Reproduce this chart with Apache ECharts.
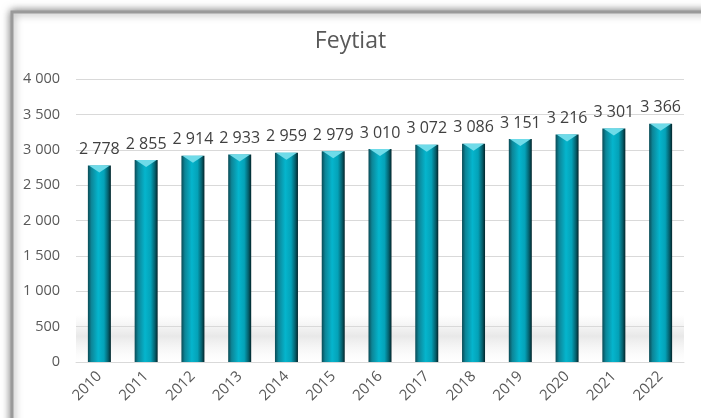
<!DOCTYPE html>
<html lang="fr">
<head>
    <meta charset="UTF-8">
    <title>Feytiat</title>
    <style>
        * { margin: 0; padding: 0; }
        html, body, #chart { width: 701px; height: 418px; overflow: hidden; background: #fff; }
    </style>
</head>
<body>
    <div id="chart"></div>
    <script src="https://cdn.jsdelivr.net/npm/echarts@6/dist/echarts.min.js"></script>
    <script>
        let years = ['2010', '2011', '2012', '2013', '2014', '2015', '2016', '2017', '2018', '2019', '2020', '2021', '2022'];
        let population = [2778, 2855, 2914, 2933, 2959, 2979, 3010, 3072, 3086, 3151, 3216, 3301, 3366];
        let yTicks = { min: 0, max: 4000, interval: 500 };

        // nombre avec espace pour les milliers : 2 778
        function fmt(v) {
            return String(v).replace(/\B(?=(\d{3})+(?!\d))/g, ' ');
        }

        let txt = '#595959';
        let font = 'Open Sans';
        let barFill = new echarts.graphic.LinearGradient(0, 0, 1, 0, [
            { offset: 0, color: '#0a4a55' },
            { offset: 0.15, color: '#0d8597' },
            { offset: 0.45, color: '#05b5cd' },
            { offset: 0.7, color: '#04a2b8' },
            { offset: 0.88, color: '#05606d' },
            { offset: 1, color: '#02242a' }
        ]);

        let chart = echarts.init(document.getElementById('chart'));
        chart.setOption({
            animation: false,
            graphic: [{
                type: 'rect',
                z: -10,
                shape: { x: 12, y: 12, width: 720, height: 440 },
                style: {
                    fill: '#fff',
                    stroke: '#9a9a9a',
                    lineWidth: 3,
                    shadowBlur: 8,
                    shadowColor: 'rgba(0,0,0,0.5)'
                }
            }, {
                // reflet gris sous les barres
                type: 'rect',
                z: -5,
                shape: { x: 76, y: 315, width: 608, height: 47 },
                style: {
                    fill: new echarts.graphic.LinearGradient(0, 0, 0, 1, [
                        { offset: 0, color: 'rgba(200,200,200,0)' },
                        { offset: 0.45, color: 'rgba(190,190,190,0.35)' },
                        { offset: 1, color: 'rgba(230,230,230,0)' }
                    ])
                }
            }],
            title: {
                text: 'Feytiat',
                left: 'center',
                top: 25,
                textStyle: { fontFamily: font, fontSize: 23, fontWeight: 'normal', color: txt }
            },
            grid: { left: 76, right: 17, top: 79, bottom: 56 },
            xAxis: {
                type: 'category',
                data: years,
                axisLine: { lineStyle: { color: '#d9d9d9' } },
                axisTick: { show: false },
                axisLabel: { rotate: 45, color: txt, fontFamily: font, fontSize: 15, margin: 12 }
            },
            yAxis: {
                type: 'value',
                min: yTicks.min,
                max: yTicks.max,
                interval: yTicks.interval,
                axisLine: { show: false },
                axisTick: { show: false },
                splitLine: { lineStyle: { color: '#d9d9d9' } },
                axisLabel: { color: txt, fontFamily: font, fontSize: 14.5, margin: 16, formatter: fmt }
            },
            series: [{
                type: 'bar',
                data: population,
                barWidth: 23,
                itemStyle: { color: barFill },
                label: {
                    show: true,
                    position: 'top',
                    distance: 8,
                    color: '#404040',
                    fontFamily: font,
                    fontSize: 16,
                    formatter: p => fmt(p.value)
                }
            }, {
                type: 'pictorialBar',
                data: population,
                symbol: 'path://M0,0 L20,0 L10,6 Z',
                symbolSize: [21, 7],
                symbolPosition: 'end',
                symbolOffset: [0, 0],
                itemStyle: { color: '#6fdbe9' },
                z: 3
            }]
        });
    </script>
</body>
</html>
